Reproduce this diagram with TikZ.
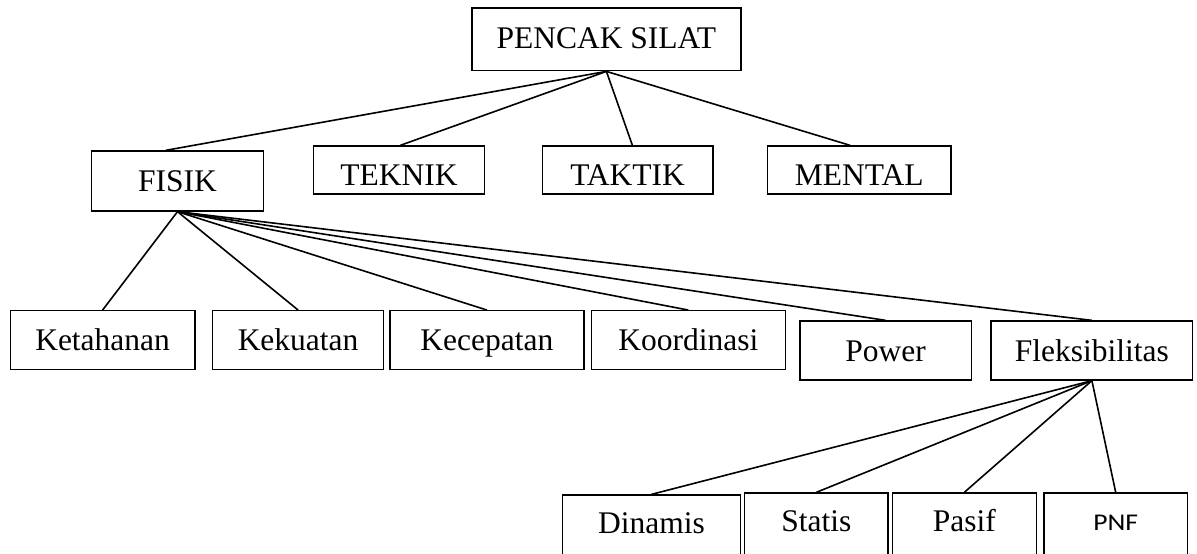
\documentclass[tikz,border=0pt]{standalone}
\usepackage{fontspec}
\setmainfont{Liberation Serif}
\newfontfamily\pnffont[FakeStretch=1.15]{Carlito}
\begin{document}
\begin{tikzpicture}[x=1pt,y=-1pt,
  box/.style={draw, line width=1.3pt, inner sep=0pt, text depth=0pt,
    font=\fontsize{31.5}{36}\selectfont},
  conn/.style={line width=1.6pt}]
\useasboundingbox (0,0) rectangle (1197,554);
\begin{scope}
\clip (0,0) rectangle (1197,554);
% level 0
\node[box, minimum width=269pt, minimum height=62.7pt, text height=17.8pt] (pencak) at (606.4,39.4) {PENCAK SILAT};
% level 1
\node[box, minimum width=171.5pt, minimum height=60pt, text height=20pt] (fisik) at (177.5,181) {FISIK};
\node[box, minimum width=171pt, minimum height=48pt, text height=30pt] (teknik) at (398.9,170) {TEKNIK};
\node[box, minimum width=170.8pt, minimum height=48pt, text height=30pt] (taktik) at (627.6,170) {TAKTIK};
\node[box, minimum width=183.5pt, minimum height=48pt, text height=30pt] (mental) at (859.3,170) {MENTAL};
% level 2
\node[box, minimum width=184.5pt, minimum height=59pt, text height=19.6pt] (ketahanan) at (102.6,340.2) {Ketahanan};
\node[box, minimum width=171.4pt, minimum height=59pt, text height=19.6pt] (kekuatan) at (298.1,340.2) {Kekuatan};
\node[box, minimum width=194pt, minimum height=59pt, text height=19.6pt] (kecepatan) at (486.9,340.2) {Kecepatan};
\node[box, minimum width=194.2pt, minimum height=59pt, text height=19.6pt] (koordinasi) at (688.3,340.2) {Koordinasi};
\node[box, minimum width=171.3pt, minimum height=59pt, text height=22pt] (power) at (885.6,350.5) {Power};
\node[box, minimum width=201.8pt, minimum height=59pt, text height=22pt] (fleks) at (1091.9,350.5) {Fleksibilitas};
% level 3
\node[box, minimum width=178.5pt, minimum height=70pt, text height=6pt] (dinamis) at (651.5,530) {Dinamis};
\node[box, minimum width=143.5pt, minimum height=72pt, text height=5.4pt] (statis) at (816.3,529) {Statis};
\node[box, minimum width=143.8pt, minimum height=72pt, text height=5.4pt] (pasif) at (964.3,529) {Pasif};
\node[box, minimum width=143.6pt, minimum height=72pt, text height=2pt, font=\pnffont\fontsize{24}{28}\selectfont] (pnf) at (1115.7,529) {PNF};
% connectors
\draw[conn] (pencak.south) -- ([xshift=-11.8pt]fisik.north);
\draw[conn] (pencak.south) -- ([xshift=1.4pt]teknik.north);
\draw[conn] (pencak.south) -- ([xshift=4.8pt]taktik.north);
\draw[conn] (pencak.south) -- ([xshift=-9.2pt]mental.north);
\foreach \c in {ketahanan,kekuatan,kecepatan,koordinasi,power,fleks}
  \draw[conn] (fisik.south) -- (\c.north);
\foreach \c in {dinamis,statis,pasif,pnf}
  \draw[conn] (fleks.south) -- (\c.north);
\end{scope}
\end{tikzpicture}
\end{document}
